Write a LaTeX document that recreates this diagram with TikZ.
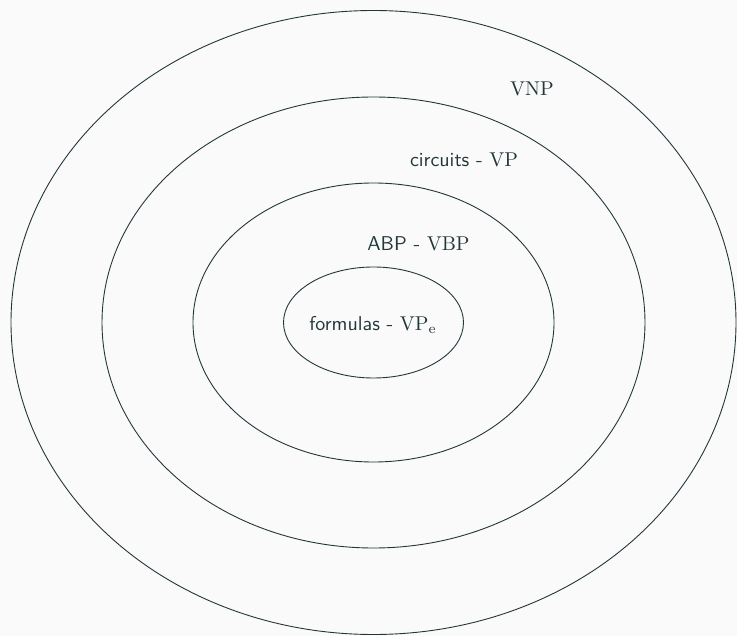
\documentclass[tikz,border=0pt]{standalone}
\definecolor{fg}{HTML}{23373B}
\definecolor{bg}{HTML}{FAFAFA}
\begin{document}
\begin{tikzpicture}[x=1pt,y=-1pt,
  ring/.style={draw=fg,line width=0.9pt},
  lbl/.style={text=fg,font=\sffamily,inner sep=0pt,scale=2}]
\fill[bg] (0,0) rectangle (737,636);
\useasboundingbox (0,0) rectangle (737,636);
\coordinate (c) at (373.5,322.5);
\draw[ring] (c) ellipse [x radius=362.5, y radius=312];
\draw[ring] (c) ellipse [x radius=271.5, y radius=225.5];
\draw[ring] (c) ellipse [x radius=180.5, y radius=139.5];
\draw[ring] (c) ellipse [x radius=90, y radius=55.5];
\node[lbl] (f) at (373,325) {formulas - $\mathrm{VP_e}$};
\node[lbl] (a) at (418.5,244) {ABP - $\mathrm{VBP}$};
\node[lbl] (ci) at (464,160) {circuits - $\mathrm{VP}$};
\node[lbl] (v) at (532,89) {$\mathrm{VNP}$};
\end{tikzpicture}
\end{document}
